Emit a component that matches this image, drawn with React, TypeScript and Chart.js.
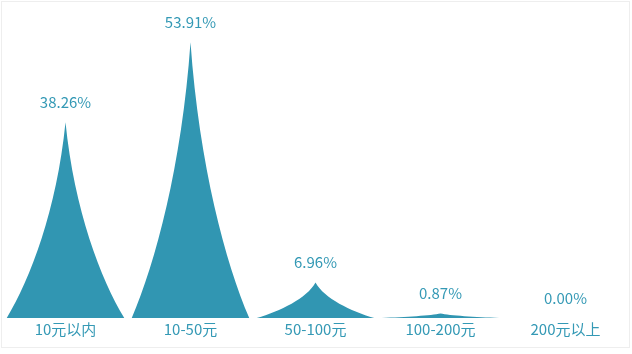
import React, { useEffect, useRef } from 'react';
import { Chart, registerables } from 'chart.js';

Chart.register(...registerables);

const categories = ['10元以内', '10-50元', '50-100元', '100-200元', '200元以上'];
const values = [38.26, 53.91, 6.96, 0.87, 0.0];
const valueLabels = ['38.26%', '53.91%', '6.96%', '0.87%', '0.00%'];

const COLOR = '#3196b2';
const TEXT_COLOR = '#3499b5';
const FONT = '"Noto Sans CJK SC", "Noto Sans", sans-serif';

const spikePlugin = {
  id: 'spike',
  afterDatasetsDraw(chart: any) {
    const ctx = chart.ctx;
    const meta = chart.getDatasetMeta(0);
    ctx.save();
    meta.data.forEach((bar: any, i: number) => {
      const { x, y, base, width } = bar.getProps(['x', 'y', 'base', 'width'], true);
      const h = base - y;
      const hw = width / 2;
      if (h > 0) {
        ctx.beginPath();
        ctx.moveTo(x - hw, base);
        ctx.lineTo(x + hw, base);
        ctx.bezierCurveTo(x + 0.6 * hw, base - 0.2 * h, x + 0.15 * hw, base - 0.55 * h, x, y);
        ctx.bezierCurveTo(x - 0.15 * hw, base - 0.55 * h, x - 0.6 * hw, base - 0.2 * h, x - hw, base);
        ctx.closePath();
        ctx.fillStyle = COLOR;
        ctx.fill();
      }
      ctx.fillStyle = TEXT_COLOR;
      ctx.font = `15px ${FONT}`;
      ctx.textAlign = 'center';
      ctx.textBaseline = 'middle';
      ctx.fillText(valueLabels[i], x, y - 20);
    });
    ctx.restore();
  },
};

export default function App() {
  const ref = useRef<HTMLCanvasElement | null>(null);
  useEffect(() => {
    if (!ref.current) return;
    const chart = new Chart(ref.current, {
      type: 'bar',
      data: {
        labels: categories,
        datasets: [
          {
            data: values,
            backgroundColor: 'rgba(0,0,0,0)',
            borderWidth: 0,
            categoryPercentage: 1,
            barPercentage: 0.94,
          },
        ],
      },
      options: {
        responsive: false,
        maintainAspectRatio: false,
        animation: false,
        devicePixelRatio: 1,
        layout: { padding: { top: 11, bottom: 14, left: 0, right: 0 } },
        plugins: { legend: { display: false }, tooltip: { enabled: false } },
        scales: {
          x: {
            grid: { display: false, drawTicks: false },
            border: { display: false },
            ticks: { color: TEXT_COLOR, font: { size: 15, family: FONT }, padding: 2, maxRotation: 0 },
          },
          y: { display: false, min: 0, max: 60 },
        },
      },
      plugins: [spikePlugin],
    } as any);
    return () => chart.destroy();
  }, []);
  return (
    <div style={{ position: 'absolute', left: 0, top: 0, width: 632, height: 354, background: '#fff' }}>
      <div
        style={{
          position: 'absolute',
          left: 1,
          top: 1,
          width: 629,
          height: 347,
          boxSizing: 'border-box',
          border: '1px solid #eeeeee',
        }}
      />
      <canvas ref={ref} width={625} height={354} style={{ position: 'absolute', left: 3, top: 0 }} />
    </div>
  );
}
